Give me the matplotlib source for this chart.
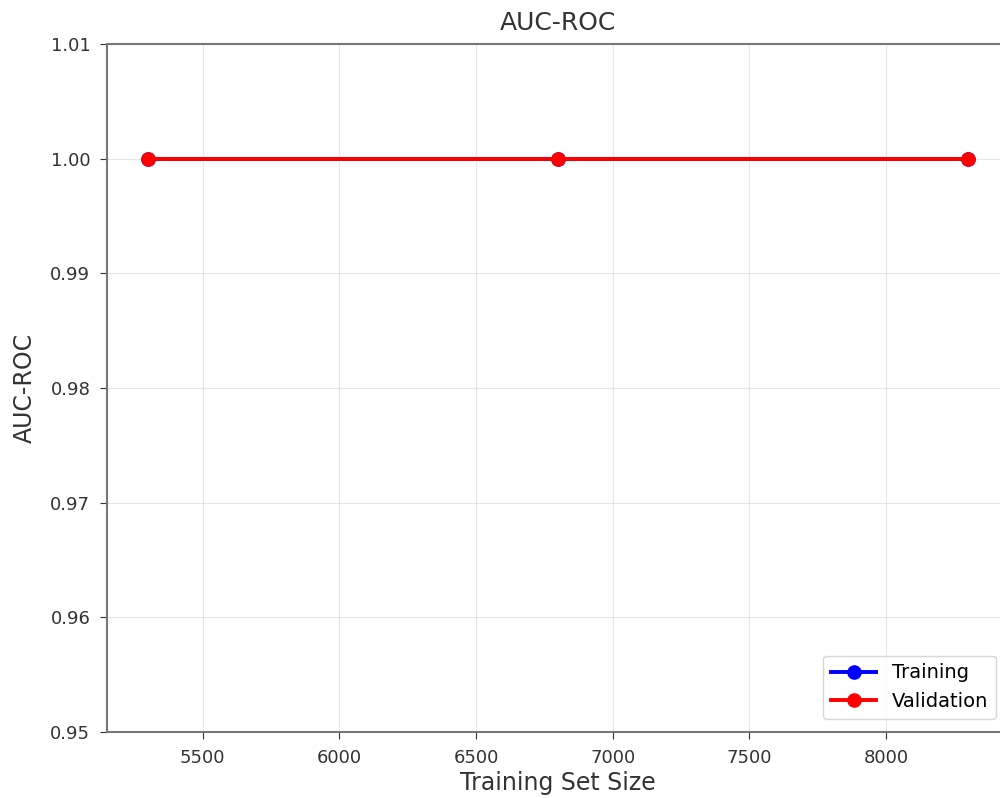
import matplotlib
matplotlib.use('Agg')

import matplotlib.pyplot as plt

train_sizes = [5300, 6800, 8300]
train_auc = [1.0, 1.0, 1.0]
val_auc = [1.0, 1.0, 1.0]

yticks = [0.95, 0.96, 0.97, 0.98, 0.99, 1.00, 1.01]


def main():
    fig = plt.figure(figsize=(10, 7.98), dpi=100)
    # the original is cropped on the right, so the axes run past the edge
    ax = fig.add_axes([0.107, 0.0827, 0.902, 0.862])

    ax.plot(train_sizes, train_auc, 'o-', color='blue', label='Training',
            linewidth=2.8, markersize=9.5)
    ax.plot(train_sizes, val_auc, 'o-', color='red', label='Validation',
            linewidth=2.8, markersize=9.5)

    ax.set_ylim(0.95, 1.01)
    ax.set_yticks(yticks)
    ax.set_yticklabels(['%.2f' % t for t in yticks])
    ax.set_xlim(5150, 8450)

    ax.set_title('AUC-ROC', fontsize=18, color='#333333', pad=10)
    ax.set_xlabel('Training Set Size', fontsize=17, color='#333333', labelpad=3)
    ax.set_ylabel('AUC-ROC', fontsize=17, color='#333333', labelpad=10)
    ax.tick_params(labelsize=13, colors='#333333', length=5, pad=7)
    for s in ax.spines.values():
        s.set_color('#777777')
        s.set_linewidth(1.5)

    ax.grid(True, alpha=0.3)
    ax.legend(loc='lower right', fontsize=14, handlelength=2.3,
              bbox_to_anchor=(0.996, 0.005))

    fig.savefig('out.png', dpi=100)
    plt.close(fig)


if __name__ == '__main__':
    main()
